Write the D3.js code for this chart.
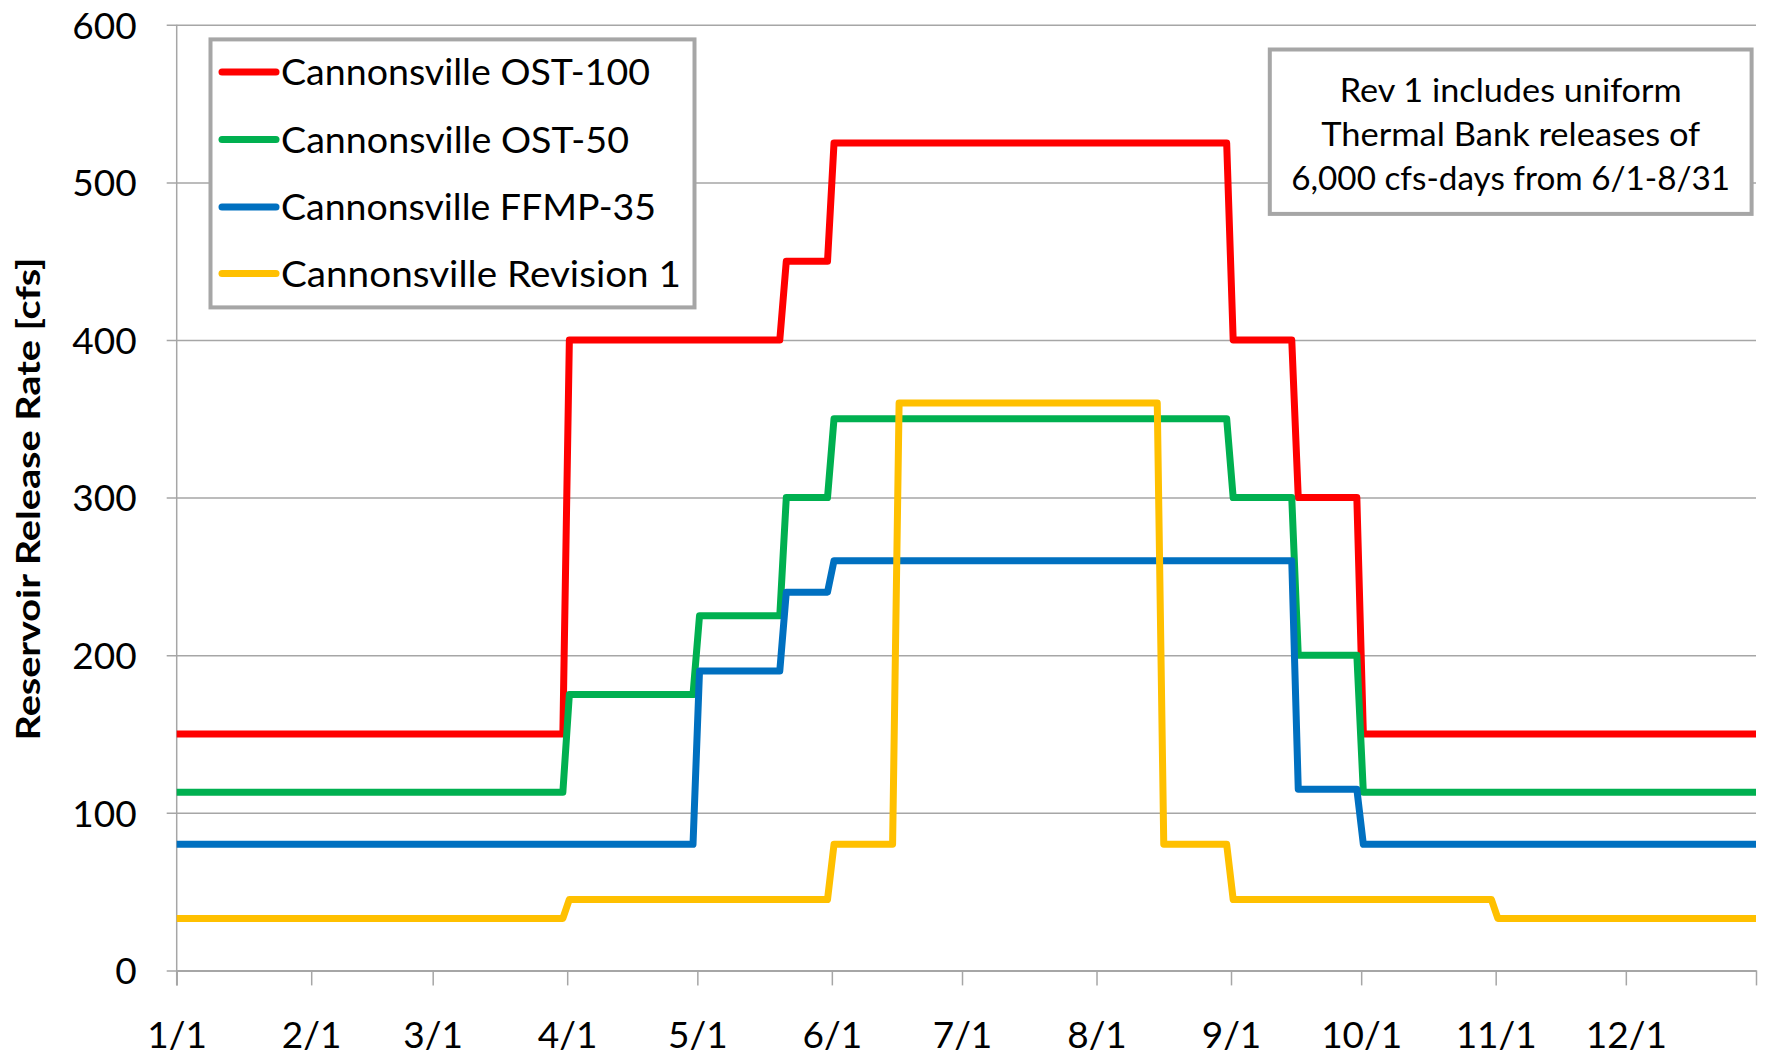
<!DOCTYPE html>
<html>
<head>
<meta charset="utf-8">
<script src="https://cdn.jsdelivr.net/npm/d3@7"></script>
<style>
  html, body { margin: 0; padding: 0; background: #fff; }
  svg { display: block; }
  text { font-family: Lato, "Open Sans", "DejaVu Sans", sans-serif; fill: #000; }
</style>
</head>
<body>
<svg id="chart" width="1765" height="1063"></svg>
<script>
// ---------------- DATA ----------------
// x: day of year (0 = 1/1), y: release rate [cfs]
const monthTickDays = [0, 31, 59, 90, 120, 151, 181, 212, 243, 273, 304, 334, 364];
const monthTickLabels = ["1/1", "2/1", "3/1", "4/1", "5/1", "6/1", "7/1", "8/1", "9/1", "10/1", "11/1", "12/1", ""];
const yTickValues = [0, 100, 200, 300, 400, 500, 600];

const seriesNames = ["Cannonsville OST-100", "Cannonsville OST-50", "Cannonsville FFMP-35", "Cannonsville Revision 1"];
const seriesColors = ["#FF0000", "#00B050", "#0070C0", "#FFC000"];

const ost100Days = [0, 89, 90.5, 139, 140.5, 150, 151.5, 242, 243.5, 257, 258.5, 272, 273.5, 364];
const ost100Vals = [150, 150, 400, 400, 450, 450, 525, 525, 400, 400, 300, 300, 150, 150];

const ost50Days = [0, 89, 90.5, 119, 120.5, 139, 140.5, 150, 151.5, 242, 243.5, 257, 258.5, 272, 273.5, 364];
const ost50Vals = [113, 113, 175, 175, 225, 225, 300, 300, 350, 350, 300, 300, 200, 200, 113, 113];

const ffmp35Days = [0, 119, 120.5, 139, 140.5, 150, 151.5, 257, 258.5, 272, 273.5, 364];
const ffmp35Vals = [80, 80, 190, 190, 240, 240, 260, 260, 115, 115, 80, 80];

const rev1Days = [0, 89, 90.5, 150, 151.5, 165, 166.5, 226, 227.5, 242, 243.5, 303, 304.5, 364];
const rev1Vals = [33, 33, 45, 45, 80, 80, 360, 360, 80, 80, 45, 45, 33, 33];

const annotationLines = ["Rev 1 includes uniform", "Thermal Bank releases of", "6,000 cfs-days from 6/1-8/31"];
const yAxisTitle = "Reservoir Release Rate [cfs]";

// ---------------- CHART ----------------
const svg = d3.select("#chart");
const plot = { left: 176.7, right: 1756, top: 24.8, bottom: 970.4 };

const x = d3.scaleLinear().domain([0, 364]).range([plot.left, plot.right]);
const y = d3.scaleLinear().domain([0, 600]).range([plot.bottom, plot.top]);

const gridColor = "#A6A6A6";

// horizontal gridlines + y ticks
const yAxis = d3.axisLeft(y).tickValues(yTickValues).tickSize(-(plot.right - plot.left)).tickSizeOuter(0).tickPadding(30).tickFormat(d3.format("d"));
const gy = svg.append("g").attr("transform", `translate(${plot.left},0)`).call(yAxis);
gy.select(".domain").remove();
gy.selectAll(".tick line").attr("stroke", gridColor).attr("stroke-width", 1.5).attr("x1", -10);
gy.selectAll(".tick text").attr("font-size", 37).attr("fill", "#000").attr("dy", "0.36em").attr("x", -40);

// y axis line
svg.append("line")
  .attr("x1", plot.left).attr("x2", plot.left)
  .attr("y1", y(600)).attr("y2", y(0) + 15)
  .attr("stroke", gridColor).attr("stroke-width", 1.5);

// x axis
const xAxis = d3.axisBottom(x).tickValues(monthTickDays).tickSize(15).tickSizeOuter(0)
  .tickFormat((d, i) => monthTickLabels[i]).tickPadding(36);
const gx = svg.append("g").attr("transform", `translate(0,${plot.bottom})`).call(xAxis);
gx.select(".domain").attr("stroke", gridColor).attr("stroke-width", 2);
gx.selectAll(".tick line").attr("stroke", gridColor).attr("stroke-width", 1.5);
gx.selectAll(".tick text").attr("font-size", 37).attr("fill", "#000");

// series
const seriesData = [
  d3.zip(ost100Days, ost100Vals),
  d3.zip(ost50Days, ost50Vals),
  d3.zip(ffmp35Days, ffmp35Vals),
  d3.zip(rev1Days, rev1Vals)
];
const line = d3.line().x(d => x(d[0])).y(d => y(d[1]));
svg.append("g").selectAll("path").data(seriesData).join("path")
  .attr("d", line)
  .attr("fill", "none")
  .attr("stroke", (d, i) => seriesColors[i])
  .attr("stroke-width", 7)
  .attr("stroke-linejoin", "round")
  .attr("stroke-linecap", "butt");

// y axis title
svg.append("text")
  .attr("transform", `translate(40,499) rotate(-90)`)
  .attr("text-anchor", "middle")
  .attr("font-size", 33)
  .attr("font-weight", "bold")
  .attr("textLength", 483)
  .attr("lengthAdjust", "spacingAndGlyphs")
  .text(yAxisTitle);

// legend
const legend = svg.append("g");
legend.append("rect")
  .attr("x", 210.5).attr("y", 39.4).attr("width", 484).attr("height", 268)
  .attr("fill", "#fff").attr("stroke", gridColor).attr("stroke-width", 4);
const legendRowY = [72, 139.6, 207, 273.5];
const legendTextLen = [369, 348, 375, 400];
seriesNames.forEach((name, i) => {
  legend.append("line")
    .attr("x1", 222).attr("x2", 276)
    .attr("y1", legendRowY[i]).attr("y2", legendRowY[i])
    .attr("stroke", seriesColors[i]).attr("stroke-width", 7).attr("stroke-linecap", "round");
  legend.append("text")
    .attr("x", 281).attr("y", legendRowY[i]).attr("dy", "0.36em")
    .attr("font-size", 37)
    .attr("textLength", legendTextLen[i]).attr("lengthAdjust", "spacingAndGlyphs")
    .text(name);
});

// annotation box
const ann = svg.append("g");
ann.append("rect")
  .attr("x", 1269.8).attr("y", 49.5).attr("width", 481.8).attr("height", 164.4)
  .attr("fill", "#fff").attr("stroke", gridColor).attr("stroke-width", 4);
const annY = [90, 134, 178];
const annLen = [342, 379, 439];
annotationLines.forEach((t, i) => {
  ann.append("text")
    .attr("x", 1510.7).attr("y", annY[i]).attr("dy", "0.36em")
    .attr("text-anchor", "middle")
    .attr("font-size", 32)
    .attr("textLength", annLen[i]).attr("lengthAdjust", "spacingAndGlyphs")
    .text(t);
});
</script>
</body>
</html>
